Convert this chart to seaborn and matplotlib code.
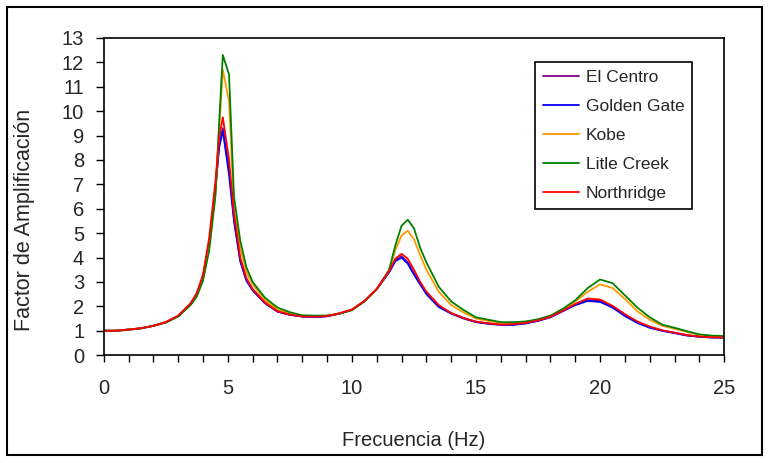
import pandas as pd
import matplotlib.pyplot as plt
import seaborn as sns
from matplotlib.patches import Rectangle
from matplotlib.ticker import MultipleLocator

sns.set_theme(style="ticks")
plt.rcParams['font.family'] = ['Liberation Sans', 'DejaVu Sans']

# Frecuencia (Hz)
freq = [0, 0.5, 1, 1.5, 2, 2.5, 3, 3.5, 3.75, 4, 4.25, 4.5, 4.65, 4.8,
        5.05, 5.25, 5.5, 5.75, 6, 6.5, 7, 7.5, 8, 8.5, 9, 9.5, 10, 10.5, 11, 11.5,
        11.75, 12, 12.25, 12.5, 12.75, 13, 13.5, 14, 14.5, 15, 15.5, 16, 16.5, 17,
        17.5, 18, 18.5, 19, 19.5, 20, 20.5, 21, 21.5, 22, 22.5, 23, 23.5, 24, 24.5, 25]

el_centro = [1.0, 1.0, 1.05, 1.1, 1.2, 1.35, 1.6, 2.1, 2.5, 3.2, 4.6, 6.8, 8.6, 9.3,
             7.6, 5.6, 3.9, 3.1, 2.7, 2.15, 1.8, 1.66, 1.59, 1.57, 1.6, 1.7, 1.85, 2.2, 2.7, 3.4,
             3.9, 4.05, 3.8, 3.35, 2.95, 2.55, 2.0, 1.72, 1.52, 1.37, 1.3, 1.25, 1.25, 1.3,
             1.42, 1.57, 1.82, 2.08, 2.25, 2.22, 2.0, 1.65, 1.35, 1.15, 1.0, 0.92, 0.82, 0.76, 0.73, 0.72]

golden_gate = [1.0, 1.0, 1.05, 1.1, 1.2, 1.35, 1.6, 2.1, 2.5, 3.2, 4.6, 6.8, 8.5, 9.2,
               7.4, 5.5, 3.85, 3.05, 2.65, 2.12, 1.78, 1.65, 1.58, 1.56, 1.59, 1.7, 1.85, 2.2, 2.7, 3.4,
               3.85, 4.0, 3.75, 3.3, 2.9, 2.5, 1.97, 1.7, 1.5, 1.35, 1.28, 1.24, 1.24, 1.3,
               1.4, 1.55, 1.8, 2.05, 2.22, 2.18, 1.95, 1.6, 1.32, 1.12, 1.0, 0.9, 0.8, 0.75, 0.72, 0.72]

kobe = [1.0, 1.0, 1.05, 1.1, 1.2, 1.35, 1.6, 2.08, 2.45, 3.1, 4.4, 6.6, 9.2, 11.7,
        10.4, 6.0, 4.4, 3.4, 2.9, 2.25, 1.87, 1.72, 1.62, 1.6, 1.62, 1.7, 1.85, 2.2, 2.7, 3.45,
        4.3, 4.9, 5.1, 4.75, 4.1, 3.5, 2.6, 2.05, 1.75, 1.5, 1.4, 1.32, 1.32, 1.35,
        1.45, 1.6, 1.85, 2.2, 2.6, 2.9, 2.75, 2.3, 1.8, 1.45, 1.2, 1.08, 0.95, 0.83, 0.78, 0.77]

litle_creek = [1.0, 1.0, 1.03, 1.1, 1.2, 1.33, 1.58, 2.05, 2.4, 3.05, 4.3, 6.5, 9.5, 12.3,
               11.5, 6.5, 4.7, 3.6, 3.0, 2.35, 1.95, 1.76, 1.63, 1.62, 1.62, 1.7, 1.85, 2.2, 2.7, 3.5,
               4.5, 5.3, 5.55, 5.2, 4.4, 3.8, 2.8, 2.2, 1.85, 1.55, 1.45, 1.35, 1.35, 1.38,
               1.47, 1.62, 1.9, 2.25, 2.75, 3.1, 2.95, 2.45, 1.95, 1.55, 1.25, 1.12, 0.98, 0.85, 0.8, 0.78]

northridge = [1.0, 1.0, 1.05, 1.1, 1.2, 1.35, 1.62, 2.12, 2.55, 3.3, 4.8, 7.1, 8.9, 9.75,
              8.0, 5.8, 4.0, 3.15, 2.7, 2.15, 1.8, 1.66, 1.58, 1.57, 1.6, 1.72, 1.87, 2.22, 2.72, 3.45,
              3.95, 4.15, 3.95, 3.5, 3.0, 2.6, 2.05, 1.72, 1.52, 1.37, 1.3, 1.25, 1.27, 1.32,
              1.42, 1.57, 1.82, 2.1, 2.32, 2.28, 2.02, 1.68, 1.38, 1.17, 1.02, 0.92, 0.82, 0.76, 0.73, 0.72]

sismos = ["El Centro", "Golden Gate", "Kobe", "Litle Creek", "Northridge"]
colores = ["#800080", "#0000ff", "#ff9900", "#008000", "#ff0000"]

series = [el_centro, golden_gate, kobe, litle_creek, northridge]
df = pd.concat([pd.DataFrame({"freq": freq, "amp": v, "sismo": s})
                for s, v in zip(sismos, series)], ignore_index=True)

fig = plt.figure(figsize=(7.68, 4.63), dpi=100)
ax = fig.add_axes([0.135, 0.233, 0.808, 0.685])

sns.lineplot(data=df, x="freq", y="amp", hue="sismo", hue_order=sismos,
             palette=colores, linewidth=1.3, ax=ax, sort=False)

ax.set_xlim(0, 25)
ax.set_ylim(0, 13)
ax.xaxis.set_major_locator(MultipleLocator(5))
ax.xaxis.set_minor_locator(MultipleLocator(1))
ax.yaxis.set_major_locator(MultipleLocator(1))
ax.tick_params(axis="x", which="both", direction="out", length=5, width=1,
               labelsize=14.5, pad=12, color="black")
ax.tick_params(axis="y", which="major", direction="out", length=6, width=1,
               labelsize=14.5, pad=8, color="black")
for sp in ax.spines.values():
    sp.set_visible(True)
    sp.set_color("black")
    sp.set_linewidth(1.2)

ax.set_xlabel("Frecuencia (Hz)", fontsize=14.5, labelpad=24)
ax.set_ylabel("Factor de Amplificación", fontsize=15.5)
ax.yaxis.set_label_coords(-0.11, 0.426)

leg = ax.legend(loc="upper right", bbox_to_anchor=(0.948, 0.924), borderaxespad=0,
                fontsize=12.5, frameon=True, fancybox=False, edgecolor="black",
                framealpha=1, handlelength=2.1, labelspacing=0.8, borderpad=0.45,
                handletextpad=0.35)
leg.get_frame().set_linewidth(1.2)
for line in leg.get_lines():
    line.set_linewidth(1.3)

# marco exterior
fig.patches.append(Rectangle((0.009, 0.017), 0.983, 0.968, transform=fig.transFigure,
                             fill=False, edgecolor="black", linewidth=1.5))

plt.savefig("out.png", dpi=100)
plt.close()
